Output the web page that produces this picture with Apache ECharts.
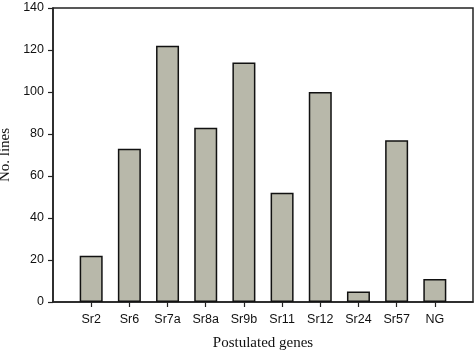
<!DOCTYPE html>
<html>
<head>
<meta charset="utf-8">
<script src="https://cdn.jsdelivr.net/npm/echarts@6/dist/echarts.min.js"></script>
<style>html,body{margin:0;padding:0;background:#fff}#c{width:476px;height:353px}</style>
</head>
<body>
<div id="c"></div>
<script>
const categories = ['Sr2','Sr6','Sr7a','Sr8a','Sr9b','Sr11','Sr12','Sr24','Sr57','NG'];
const values = [22, 73, 122, 83, 114, 52, 100, 5, 77, 11];
const yTicks = [0, 20, 40, 60, 80, 100, 120, 140];

const axisCats = [''].concat(categories, ['']);
const seriesData = ['-'].concat(values, ['-']);

const chart = echarts.init(document.getElementById('c'));
chart.setOption({
  animation: false,
  backgroundColor: '#fff',
  grid: {left: 53, right: 3, top: 8, bottom: 51, show: true, borderColor: '#222', borderWidth: 1.5, containLabel: false, outerBoundsMode: 'none'},
  xAxis: {
    type: 'category',
    data: axisCats,
    boundaryGap: false,
    name: 'Postulated genes',
    nameLocation: 'middle',
    nameGap: 34,
    nameTextStyle: {fontFamily: 'Liberation Serif', fontSize: 15, color: '#111'},
    axisLine: {lineStyle: {color: '#222', width: 1.5}},
    axisTick: {show: true, inside: false, length: 5, lineStyle: {color: '#222', width: 1.2}, interval: function(i, v){ return v !== ''; }},
    axisLabel: {fontFamily: 'Liberation Sans', fontSize: 12.5, color: '#111', margin: 11, interval: 0},
    splitLine: {show: false}
  },
  yAxis: {
    type: 'value',
    min: yTicks[0],
    max: yTicks[yTicks.length - 1],
    interval: 20,
    name: 'No. lines',
    nameLocation: 'middle',
    nameGap: 32,
    nameTextStyle: {fontFamily: 'Liberation Serif', fontSize: 15, color: '#111'},
    axisLine: {show: true, lineStyle: {color: '#222', width: 1.5}},
    axisTick: {show: true, inside: false, length: 5, lineStyle: {color: '#222', width: 1.2}},
    axisLabel: {fontFamily: 'Liberation Sans', fontSize: 12.5, color: '#111', margin: 9},
    splitLine: {show: false}
  },
  series: [{
    type: 'bar',
    data: seriesData,
    barWidth: 23,
    itemStyle: {color: '#b8b8aa', borderColor: '#111', borderWidth: 1.5}
  }]
});
</script>
</body>
</html>
